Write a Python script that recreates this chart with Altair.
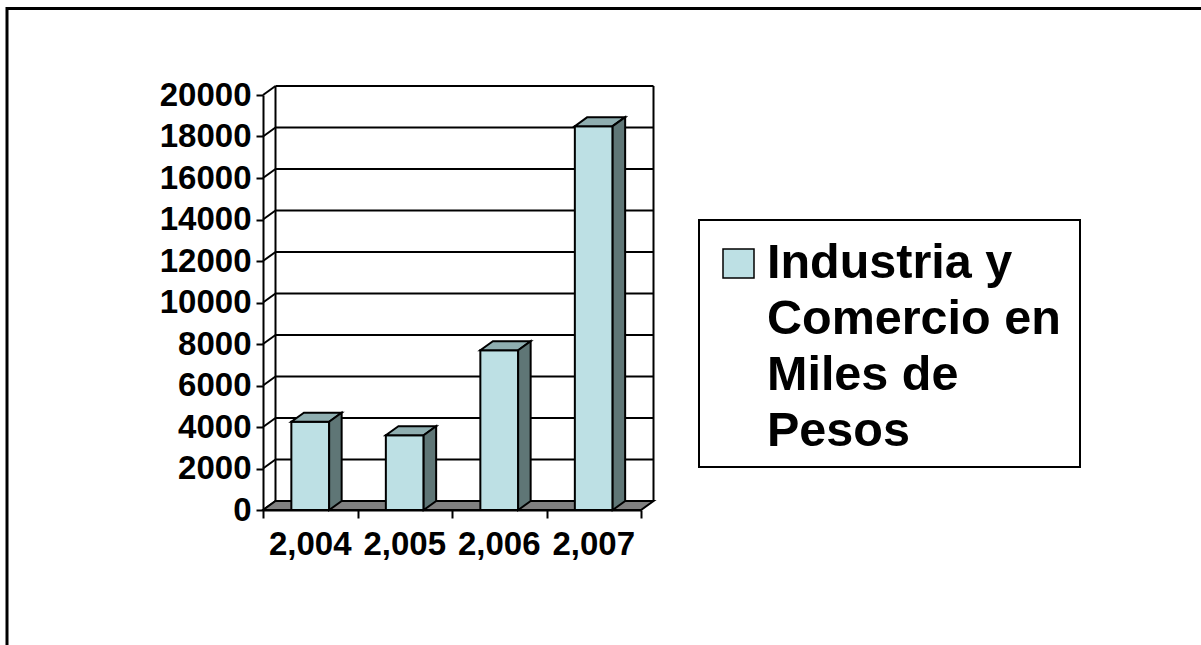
import altair as alt
import pandas as pd

# ---- data ----
years = ["2,004", "2,005", "2,006", "2,007"]
values = [4250, 3600, 7700, 18500]
y_ticks = [0, 2000, 4000, 6000, 8000, 10000, 12000, 14000, 16000, 18000, 20000]
series_lines = ["Industria y", "Comercio en", "Miles de", "Pesos"]

# ---- style / geometry ----
FONT = "Liberation Sans"
FRONT = "#BDE0E4"
TOP = "#8FAEB0"
SIDE = "#5F7676"
FLOOR = "#808080"
W, H = 378, 415
OX, OY = 263, 95           # plot-area origin in the page
N = len(years)
Y_MAX = y_ticks[-1]
DX = 12.5 * N / W          # oblique depth, in x units
DY = 9.0 * Y_MAX / H       # oblique depth, in y units
BAR_L, BAR_R = 0.3, 0.7

xs = alt.Scale(domain=[0, N], nice=False, zero=False)
ys = alt.Scale(domain=[0, Y_MAX], nice=False, zero=False)

X_AXIS = alt.Axis(values=list(range(N + 1)), labels=False, tickSize=8, title=None,
                  grid=False, domainColor="black", domainWidth=2,
                  tickColor="black", tickWidth=2)
Y_AXIS = alt.Axis(values=y_ticks, format="d", tickSize=7, title=None, grid=False,
                  domainColor="black", domainWidth=2, tickColor="black", tickWidth=2,
                  labelFont=FONT, labelFontSize=33, labelFontWeight="bold",
                  labelColor="black", labelPadding=5)

bars = pd.DataFrame({"year": years, "i": list(range(N)), "value": values})
bars["x0"] = bars["i"] + BAR_L
bars["x1"] = bars["i"] + BAR_R
bars["mid"] = bars["i"] + 0.5

side_rows, top_rows = [], []
for i, (yr, v) in enumerate(zip(years, values)):
    side_rows.append({"year": yr, "x": i + BAR_R, "y": v, "y2": 0})
    side_rows.append({"year": yr, "x": i + BAR_R + DX, "y": v + DY, "y2": DY})
    top_rows.append({"year": yr, "y": v, "x": i + BAR_L, "x2": i + BAR_R})
    top_rows.append({"year": yr, "y": v + DY, "x": i + BAR_L + DX, "x2": i + BAR_R + DX})
side = pd.DataFrame(side_rows)
top = pd.DataFrame(top_rows)

floor = pd.DataFrame({"y": [0, DY], "x": [0, DX], "x2": [N, N + DX]})

grid = pd.DataFrame({"v": y_ticks})
grid["vb"] = grid["v"] + DY
grid["x0"] = 0.0
grid["xb"] = DX
grid["xe"] = N + DX

walls = pd.DataFrame({"x": [DX, N + DX], "y": [DY, DY], "y2": [Y_MAX + DY, Y_MAX + DY]})

one = pd.DataFrame({"k": [0]})


def X(field, **kw):
    return alt.X(field, scale=xs, axis=X_AXIS, **kw)


def Y(field, **kw):
    return alt.Y(field, scale=ys, axis=Y_AXIS, **kw)


frame = alt.Chart(one).mark_rect(
    filled=False, stroke="black", strokeWidth=3
).encode(
    x=alt.value(7 - OX), x2=alt.value(1300 - OX), y=alt.value(8.5 - OY), y2=alt.value(760 - OY)
)

grid_back = alt.Chart(grid).mark_rule(color="black", strokeWidth=2).encode(
    x=X("xb:Q"), x2="xe:Q", y=Y("vb:Q"),
)
grid_diag = alt.Chart(grid).mark_rule(color="black", strokeWidth=2).encode(
    x=X("x0:Q"), x2="xb:Q", y=Y("v:Q"), y2="vb:Q",
)
wall_lines = alt.Chart(walls).mark_rule(color="black", strokeWidth=2).encode(
    x=X("x:Q"), y=Y("y:Q"), y2="y2:Q",
)
floor_layer = alt.Chart(floor).mark_area(
    orient="horizontal", fill=FLOOR, stroke="black", strokeWidth=2
).encode(
    y=Y("y:Q", stack=None), x=X("x:Q", stack=None), x2="x2:Q",
)

front = alt.Chart(bars).mark_rect(fill=FRONT, stroke="black", strokeWidth=2).encode(
    x=X("x0:Q"), x2="x1:Q", y=Y("value:Q"), y2=alt.datum(0),
)

top_layer = alt.Chart(top).mark_area(
    orient="horizontal", fill=TOP, stroke="black", strokeWidth=2
).encode(
    y=Y("y:Q", stack=None), x=X("x:Q", stack=None), x2="x2:Q", detail="year:N",
)
side_layer = alt.Chart(side).mark_area(
    fill=SIDE, stroke="black", strokeWidth=2
).encode(
    x=X("x:Q", stack=None), y=Y("y:Q", stack=None), y2="y2:Q", detail="year:N",
)

xlabels = alt.Chart(bars).mark_text(
    font=FONT, fontSize=33, fontWeight="bold", color="black",
    baseline="alphabetic", dy=45,
).encode(
    x=X("mid:Q"), y=alt.datum(0), text="year:N",
)

# ---- legend box (drawn by hand to match the boxed, wrapped legend) ----
legend_box = alt.Chart(one).mark_rect(fill="white", stroke="black", strokeWidth=2).encode(
    x=alt.value(699 - OX), x2=alt.value(1080 - OX),
    y=alt.value(220 - OY), y2=alt.value(467 - OY),
)
legend_swatch = alt.Chart(one).mark_rect(fill=FRONT, stroke="black", strokeWidth=1.5).encode(
    x=alt.value(723 - OX), x2=alt.value(754 - OX),
    y=alt.value(249 - OY), y2=alt.value(278 - OY),
)
legend_text = alt.Chart(one).mark_text(
    font=FONT, fontSize=48.5, fontWeight="bold", color="black",
    align="left", baseline="alphabetic", lineHeight=56,
).encode(
    x=alt.value(767 - OX), y=alt.value(278 - OY),
    text=alt.value(series_lines),
)

chart = alt.layer(
    frame, grid_back, grid_diag, wall_lines, floor_layer,
    front, top_layer, side_layer, xlabels,
    legend_box, legend_swatch, legend_text,
).properties(
    width=W, height=H,
    padding={"left": OX, "top": OY, "right": 1201 - OX - W, "bottom": 645 - OY - H},
    autosize=alt.AutoSizeParams(type="none"),
).configure_view(stroke="transparent")

chart.save("out.html", embed_options={"renderer": "svg", "actions": False})
